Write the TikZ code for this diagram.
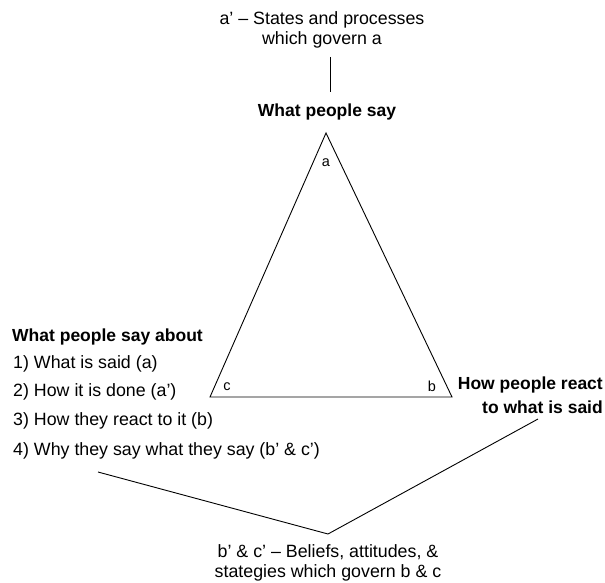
\documentclass[tikz,border=0pt]{standalone}
\usepackage{fontspec}
\setmainfont{Liberation Sans}
\begin{document}
\begin{tikzpicture}[x=1pt,y=-1pt,
  txt/.style={inner sep=0pt,font=\fontsize{17.8}{20.5}\selectfont},
  btxt/.style={inner sep=0pt,font=\fontsize{17.5}{24}\selectfont\bfseries},
  lbl/.style={inner sep=0pt,font=\fontsize{14.5}{16}\selectfont},
  ln/.style={line width=0.9pt}]
\useasboundingbox (0,0) rectangle (605,583);
\node[txt,align=center] (atxt) at (322,30) {a' -- States and processes\\which govern a};
\node[btxt] (say) at (327,112) {What people say};
\coordinate (la1) at (330,57);
\coordinate (la2) at (330,92);
\draw[ln] (la1) -- (la2);
\coordinate (A) at (326,133);
\coordinate (C) at (210,397);
\coordinate (B) at (452,397);
\draw[ln,line join=miter] (A) -- (B) -- (C) -- cycle;
\node[lbl] (la) at (326,163) {a};
\node[lbl] (lc) at (227,387) {c};
\node[lbl] (lb) at (432,386) {b};
\node[btxt,anchor=west] (about) at (12,337) {What people say about};
\node[txt,anchor=west] (i1) at (13,364) {1) What is said (a)};
\node[txt,anchor=west] (i2) at (13,392) {2) How it is done (a')};
\node[txt,anchor=west] (i3) at (13,421) {3) How they react to it (b)};
\node[txt,anchor=west] (i4) at (13,451) {4) Why they say what they say (b' \& c')};
\node[btxt,align=right,anchor=east] (react) at (603,395) {How people react\\to what is said};
\node[txt,align=center] (bc) at (328,563) {b' \& c' -- Beliefs, attitudes, \&\\stategies which govern b \& c};
\coordinate (v1) at (98,472);
\coordinate (v2) at (328,534);
\coordinate (v3) at (538,419);
\draw[ln] (v1) -- (v2) -- (v3);
\end{tikzpicture}
\end{document}
